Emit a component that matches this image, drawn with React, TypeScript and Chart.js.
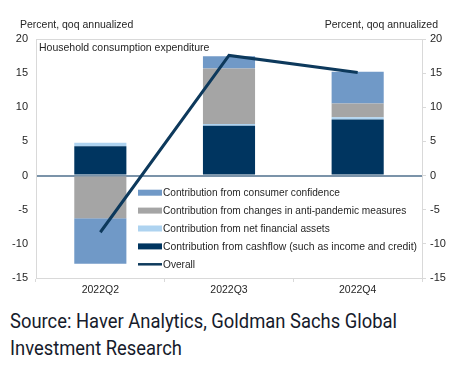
import React, { useEffect, useRef } from "react";
import { Chart, registerables } from "chart.js";

Chart.register(...registerables);

const categories = ["2022Q2", "2022Q3", "2022Q4"];
const cashflow = [4.3, 7.3, 8.2];
const netFinancial = [0.5, 0.27, 0.35];
const antiPandemic = [-6.25, 8.1, 2.0];
const confidence = [-6.65, 1.8, 4.65];
const overall = [-8.3, 17.6, 15.1];

const labelCashflow = "Contribution from cashflow (such as income and credit)";
const labelNetFin = "Contribution from net financial assets";
const labelAnti = "Contribution from changes in anti-pandemic measures";
const labelConf = "Contribution from consumer confidence";
const labelOverall = "Overall";

const sourceLines = ["Source: Haver Analytics, Goldman Sachs Global", "Investment Research"];

const C_CASH = "#003560";
const C_NET = "#aed3f0";
const C_ANTI = "#a5a5a5";
const C_CONF = "#7099c7";
const C_LINE = "#0d395c";
const AXIS = "#d9d9d9";
const TXT = "#262626";
const FONT = "Liberation Sans, Arial, sans-serif";

const overlay = {
  id: "overlay",
  afterDraw(chart: any) {
    const ctx = chart.ctx;
    const area = chart.chartArea;
    ctx.save();
    ctx.fillStyle = TXT;
    ctx.font = `10.5px ${FONT}`;
    ctx.textBaseline = "alphabetic";
    ctx.textAlign = "left";
    ctx.fillText("Percent, qoq annualized", 20, 28);
    ctx.textAlign = "right";
    ctx.fillText("Percent, qoq annualized", 438, 28);
    ctx.textAlign = "left";
    ctx.fillText("Household consumption expenditure", area.left + 3, area.top + 12);

    const items = [
      { label: labelConf, color: C_CONF, line: false },
      { label: labelAnti, color: C_ANTI, line: false },
      { label: labelNetFin, color: C_NET, line: false },
      { label: labelCashflow, color: C_CASH, line: false },
      { label: labelOverall, color: C_LINE, line: true },
    ];
    const x0 = 138;
    let y = 192.7;
    ctx.textBaseline = "middle";
    for (const it of items) {
      if (it.line) {
        ctx.strokeStyle = it.color;
        ctx.lineWidth = 2.5;
        ctx.beginPath();
        ctx.moveTo(x0, y);
        ctx.lineTo(x0 + 24, y);
        ctx.stroke();
      } else {
        ctx.fillStyle = it.color;
        ctx.fillRect(x0, y - 3, 24, 6);
      }
      ctx.fillStyle = TXT;
      const w = ctx.measureText(it.label).width;
      const target = it.label === labelCashflow ? 254 : w * 0.965;
      const sx = Math.min(1, target / w);
      ctx.save();
      ctx.translate(x0 + 25, y + 0.5);
      ctx.scale(sx, 1);
      ctx.fillText(it.label, 0, 0);
      ctx.restore();
      y += 17.9;
    }
    ctx.restore();
  },
};

export default function App() {
  const ref = useRef<HTMLCanvasElement>(null);
  const srcRef = useRef<HTMLDivElement>(null);
  useEffect(() => {
    const el = srcRef.current;
    if (el) {
      const first = el.firstElementChild as HTMLElement;
      const w = first.getBoundingClientRect().width;
      if (w > 0) el.style.transform = `scaleX(${387 / w})`;
    }
    const tickFont = { family: FONT, size: 11 };
    const chart = new Chart(ref.current!, {
      type: "bar",
      data: {
        labels: categories,
        datasets: [
          { type: "line", label: labelOverall, data: overall, borderColor: C_LINE, borderWidth: 3, pointRadius: 0, stack: "line", order: 0, tension: 0 } as any,
          { label: labelCashflow, data: cashflow, backgroundColor: C_CASH, stack: "bars", order: 1 },
          { label: labelNetFin, data: netFinancial, backgroundColor: C_NET, stack: "bars", order: 1 },
          { label: labelAnti, data: antiPandemic, backgroundColor: C_ANTI, stack: "bars", order: 1 },
          { label: labelConf, data: confidence, backgroundColor: C_CONF, stack: "bars", order: 1 },
        ],
      },
      options: {
        animation: false,
        responsive: false,
        maintainAspectRatio: false,
        layout: { padding: { top: 39, left: 0, right: 0, bottom: 0 } },
        datasets: { bar: { categoryPercentage: 1, barPercentage: 0.405 } },
        plugins: { legend: { display: false }, tooltip: { enabled: false } },
        scales: {
          x: {
            stacked: true,
            offset: true,
            border: { color: AXIS, width: 1 },
            grid: { offset: true, drawOnChartArea: false, drawTicks: true, tickLength: 4, color: AXIS },
            ticks: { color: TXT, font: { family: FONT, size: 10.5 }, padding: 2, maxRotation: 0 },
            afterFit: (s: any) => { s.height = 22; },
          },
          y: {
            stacked: true,
            position: "left",
            min: -15,
            max: 20,
            border: { color: AXIS, width: 1 },
            grid: {
              drawTicks: false,
              color: (c: any) => (c.tick && c.tick.value === 0 ? "#7b93a9" : c.tick && c.tick.value === 20 ? AXIS : "rgba(0,0,0,0)"),
              lineWidth: (c: any) => (c.tick && c.tick.value === 0 ? 2 : 1),
            },
            ticks: { stepSize: 5, color: TXT, font: tickFont, padding: 8 },
            afterFit: (s: any) => { s.width = 36; },
          },
          y1: {
            position: "right",
            min: -15,
            max: 20,
            border: { color: AXIS, width: 1 },
            grid: { drawOnChartArea: false, drawTicks: true, tickLength: 4, color: AXIS },
            ticks: { stepSize: 5, color: TXT, font: tickFont, padding: 4 },
            afterFit: (s: any) => { s.width = 40; },
          },
        },
      },
      plugins: [overlay],
    });
    return () => chart.destroy();
  }, []);

  return (
    <div style={{ position: "absolute", left: 0, top: 0, width: 462, height: 373, background: "#fff" }}>
      <canvas ref={ref} width={462} height={300} style={{ display: "block" }} />
      <div
        ref={srcRef}
        style={{
          position: "absolute",
          left: 10,
          top: 308,
          fontFamily: "Roboto, 'Noto Sans', sans-serif",
          fontSize: 21,
          lineHeight: "27px",
          color: "#161b2b",
          whiteSpace: "nowrap",
          transformOrigin: "0 0",
        }}
      >
        {sourceLines.map((l) => (
          <div key={l} style={{ display: "inline-block", width: "max-content", clear: "both" }}>{l}</div>
        )).reduce((acc: any[], el, i) => (i ? [...acc, <br key={"br" + i} />, el] : [el]), [])}
      </div>
    </div>
  );
}
